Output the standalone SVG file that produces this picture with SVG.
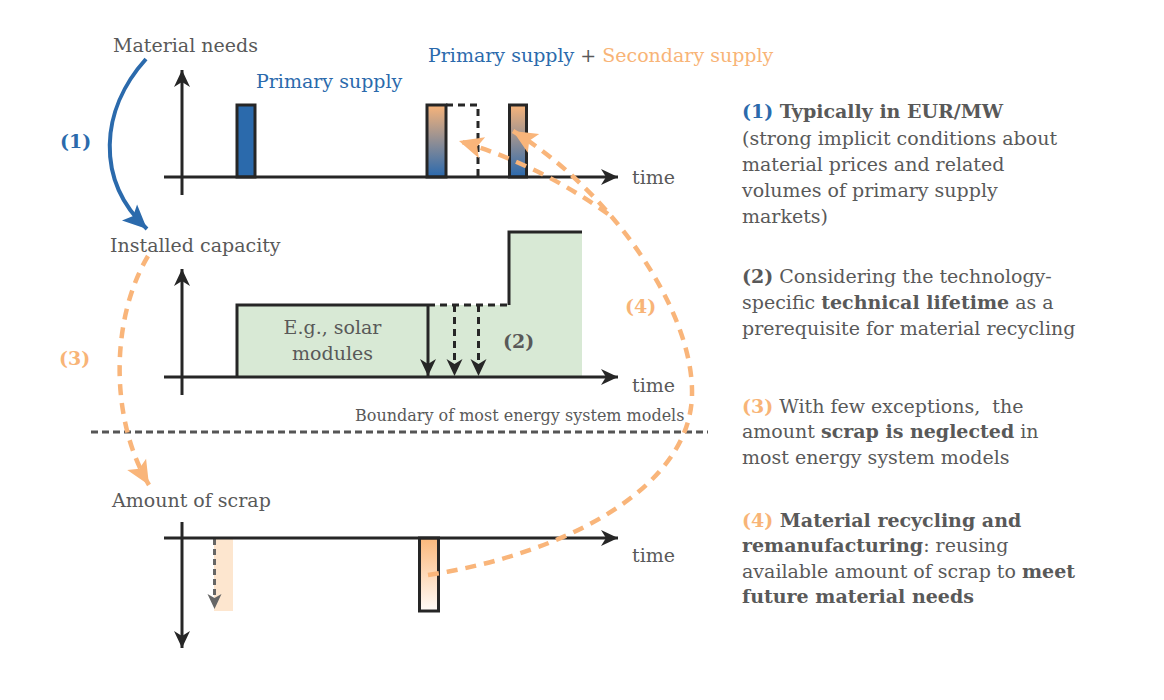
<svg xmlns="http://www.w3.org/2000/svg" width="1164" height="700" viewBox="0 0 1164 700">
<style>
text{font-family:"DejaVu Serif","Liberation Serif",serif;fill:#595959;font-size:19px}
.b{font-weight:bold}
.blue{fill:#2b6aac}
.org{fill:#f8b477}
.small{font-size:16px}
.leg{font-size:19px}
.axis{stroke:#262626;stroke-width:3;fill:none}
.dash{stroke:#262626;stroke-width:3;fill:none;stroke-dasharray:7 5}
.bar{stroke:#262626;stroke-width:3}
.oc{stroke:#f9b57a;stroke-width:4.5;fill:none;stroke-dasharray:11 8}
</style>
<defs>
<marker id="ab" markerUnits="userSpaceOnUse" viewBox="-18 -9 19 18" markerWidth="19" markerHeight="18" refX="0" refY="0" orient="auto"><path d="M0,0 L-17,-8 L-12,0 L-17,8 Z" fill="#262626"/></marker>
<marker id="ag" markerUnits="userSpaceOnUse" viewBox="-16 -8 17 16" markerWidth="17" markerHeight="16" refX="0" refY="0" orient="auto"><path d="M0,0 L-15,-7 L-11,0 L-15,7 Z" fill="#666"/></marker>
<marker id="ao" markerUnits="userSpaceOnUse" viewBox="-25 -12 26 24" markerWidth="26" markerHeight="24" refX="0" refY="0" orient="auto"><path d="M0,0 L-24,-11 L-19,0 L-24,11 Z" fill="#f9b57a"/></marker>
<marker id="abl" markerUnits="userSpaceOnUse" viewBox="-25 -12 26 24" markerWidth="26" markerHeight="24" refX="0" refY="0" orient="auto"><path d="M0,0 L-24,-11 L-19,0 L-24,11 Z" fill="#2b6aac"/></marker>
<linearGradient id="gmix" x1="0" y1="0" x2="0" y2="1"><stop offset="0" stop-color="#f8b47a"/><stop offset="1" stop-color="#2a69ae"/></linearGradient>
<linearGradient id="gscrap" x1="0" y1="0" x2="0" y2="1"><stop offset="0" stop-color="#fbb87b"/><stop offset="1" stop-color="#fffbf8"/></linearGradient>
</defs>

<g id="material-needs">
<text x="113" y="52">Material needs</text>
<text x="256" y="88" class="blue">Primary supply</text>
<text x="428" y="62"><tspan class="blue">Primary supply</tspan> + <tspan class="org">Secondary supply</tspan></text>
<rect x="237" y="105" width="18" height="72" fill="#2b6aac" class="bar"/>
<rect x="427" y="105" width="19" height="72" fill="url(#gmix)" class="bar"/>
<path d="M446,105 H478 V177" class="dash"/>
<rect x="509.5" y="105" width="17" height="72" fill="url(#gmix)" class="bar"/>
<path d="M182,195 V70" class="axis" marker-end="url(#ab)"/>
<path d="M164,177 H618" class="axis" marker-end="url(#ab)"/>
<text x="632" y="184">time</text>
</g>

<g id="installed-capacity">
<text x="110" y="252">Installed capacity</text>
<path d="M237,377 V305 H509 V232 H582 V377 Z" fill="#d8e9d5"/>
<path d="M237,377 V305 H428" class="axis"/>
<path d="M509,305 V232 H582" class="axis"/>
<path d="M428,305 H509" class="dash"/>
<path d="M428,305 V376" class="axis" marker-end="url(#ab)"/>
<path d="M454.5,305 V376" class="dash" marker-end="url(#ab)"/>
<path d="M478.5,305 V376" class="dash" marker-end="url(#ab)"/>
<path d="M182,395 V269" class="axis" marker-end="url(#ab)"/>
<path d="M164,377 H618" class="axis" marker-end="url(#ab)"/>
<text x="332.5" y="334" text-anchor="middle">E.g., solar</text>
<text x="332.5" y="360" text-anchor="middle">modules</text>
<text x="503" y="348" class="b">(2)</text>
<text x="632" y="392">time</text>
</g>

<g id="boundary">
<text x="355" y="421" class="small">Boundary of most energy system models</text>
<path d="M91,432 H708" stroke="#555" stroke-width="3" stroke-dasharray="7 4"/>
</g>

<g id="amount-of-scrap">
<text x="112" y="507">Amount of scrap</text>
<rect x="214" y="538" width="19" height="73" fill="#fde6cf"/>
<path d="M214.5,539 V609" stroke="#666" stroke-width="3" stroke-dasharray="6 4" fill="none" marker-end="url(#ag)"/>
<rect x="419.5" y="538" width="19" height="73" fill="url(#gscrap)" class="bar"/>
<path d="M182,522 V648" class="axis" marker-end="url(#ab)"/>
<path d="M164,538 H618" class="axis" marker-end="url(#ab)"/>
<text x="632" y="562">time</text>
</g>

<g id="connectors">
<path d="M146,59 C100,110 95,180 147,229" stroke="#2b6aac" stroke-width="4" fill="none" marker-end="url(#abl)"/>
<path d="M148,256 C110,320 110,420 149,485" class="oc" marker-end="url(#ao)"/>
<path d="M428,575 C560,555 690,490 692,395 C694,310 610,190 513,131" class="oc" marker-end="url(#ao)"/>
<path d="M608,214 Q540,165 459,141" class="oc" marker-end="url(#ao)"/>
</g>

<g id="step-labels">
<text x="60" y="148" class="b blue">(1)</text>
<text x="59" y="365" class="b org">(3)</text>
<text x="625" y="313" class="b org">(4)</text>
</g>

<g id="legend" class="leg">
<text x="742" y="118" class="b"><tspan class="blue">(1)</tspan> Typically in EUR/MW</text>
<text x="742" y="145">(strong implicit conditions about</text>
<text x="742" y="171">material prices and related</text>
<text x="742" y="197">volumes of primary supply</text>
<text x="742" y="223">markets)</text>
<text x="742" y="283"><tspan class="b">(2)</tspan> Considering the technology-</text>
<text x="742" y="309">specific <tspan class="b">technical lifetime</tspan> as a</text>
<text x="742" y="335">prerequisite for material recycling</text>
<text x="742" y="413"><tspan class="b org">(3)</tspan> With few exceptions,&#160; the</text>
<text x="742" y="438">amount <tspan class="b">scrap is neglected</tspan> in</text>
<text x="742" y="464">most energy system models</text>
<text x="742" y="527" class="b"><tspan class="org">(4)</tspan> Material recycling and</text>
<text x="742" y="552"><tspan class="b">remanufacturing</tspan>: reusing</text>
<text x="742" y="578">available amount of scrap to <tspan class="b">meet</tspan></text>
<text x="742" y="603" class="b">future material needs</text>
</g>
</svg>
